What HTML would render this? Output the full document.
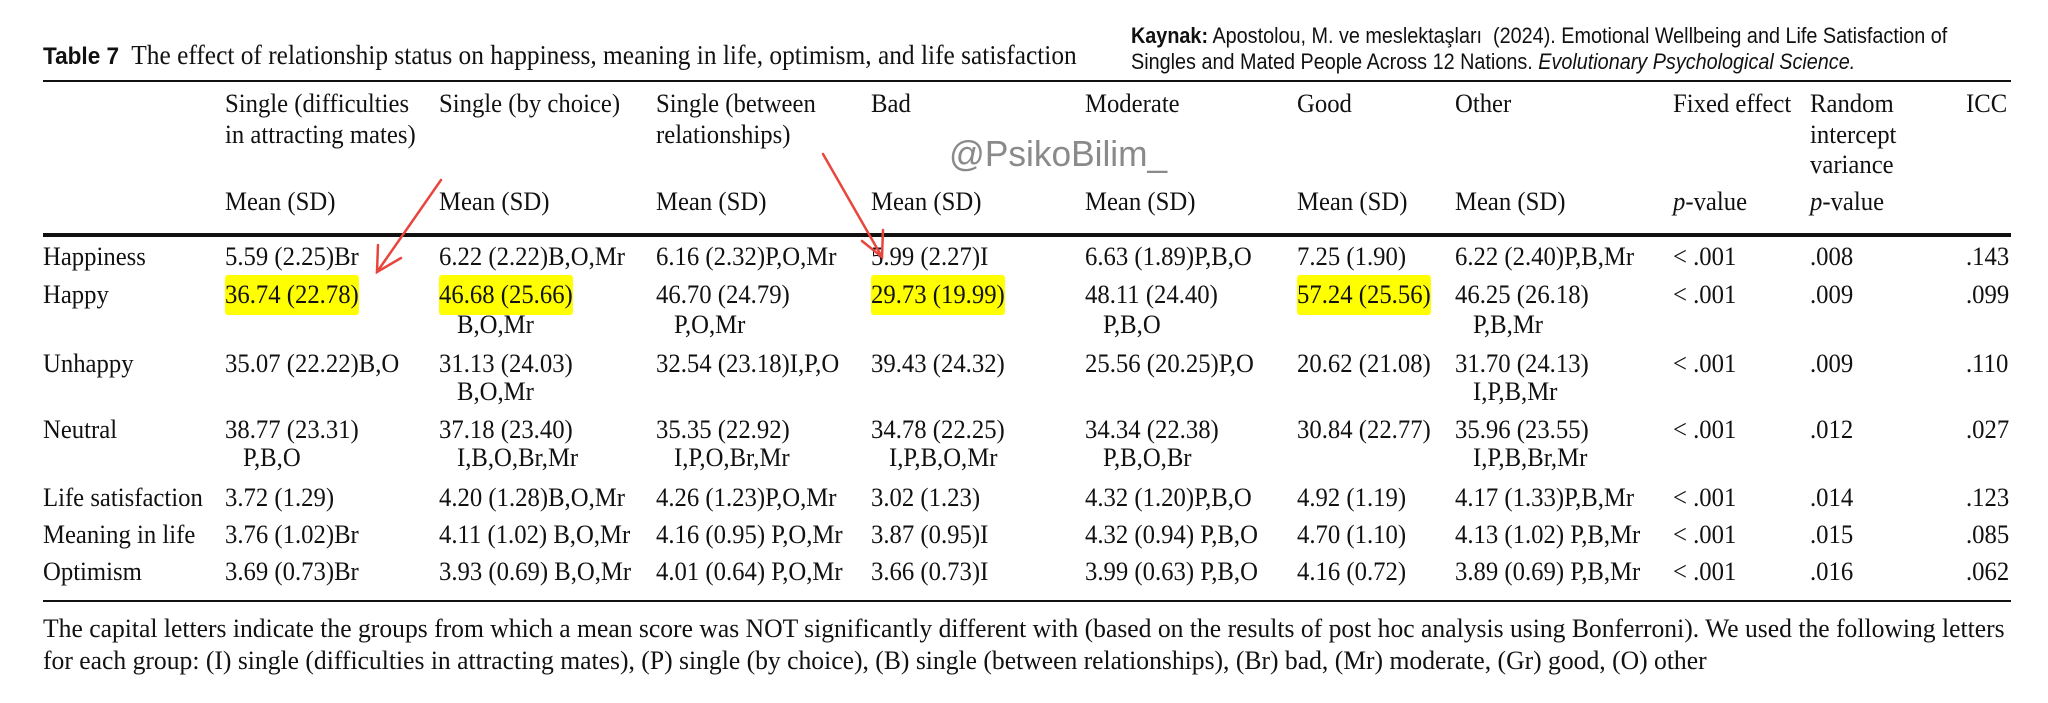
<!DOCTYPE html>
<html><head><meta charset="utf-8">
<style>
body{margin:0;background:#fff;}
#c{position:relative;width:2048px;height:703px;overflow:hidden;background:#fff;font-family:"Liberation Serif",serif;color:#111;}
.t{position:absolute;white-space:nowrap;font-size:26px;line-height:30px;transform:scaleX(0.95);transform-origin:left center;}
.hl{background:#ffff00;border-radius:3px;padding:5px 0 6px;}
.rule{position:absolute;left:43px;width:1968px;background:#111;}
</style></head><body><div id="c">
<div class="t" style="left:43px;top:40px;font-size:27px;transform:scaleX(0.94)"><b style="font-family:'Liberation Sans',sans-serif;font-size:24px">Table 7</b>&nbsp; The effect of relationship status on happiness, meaning in life, optimism, and life satisfaction</div>
<div class="t" style="left:1131px;top:21px;font-family:'Liberation Sans',sans-serif;font-size:22px;transform:scaleX(0.9)"><b>Kaynak:</b> Apostolou, M. ve meslektaşları&nbsp; (2024). Emotional Wellbeing and Life Satisfaction of</div>
<div class="t" style="left:1131px;top:47px;font-family:'Liberation Sans',sans-serif;font-size:22px;transform:scaleX(0.9)">Singles and Mated People Across 12 Nations. <i>Evolutionary Psychological Science.</i></div>
<div class="t" style="left:949px;top:135px;font-family:'Liberation Sans',sans-serif;font-size:36px;line-height:38px;color:#8a8a8a;transform:scaleX(0.98)">@PsikoBilim_</div>
<div class="rule" style="top:80px;height:2px"></div>
<div class="rule" style="top:233px;height:4px"></div>
<div class="rule" style="top:600px;height:2px"></div>

<div class="t" style="left:225px;top:89px">Single (difficulties</div>
<div class="t" style="left:225px;top:120px">in attracting mates)</div>
<div class="t" style="left:439px;top:89px">Single (by choice)</div>
<div class="t" style="left:656px;top:89px">Single (between</div>
<div class="t" style="left:656px;top:120px">relationships)</div>
<div class="t" style="left:871px;top:89px">Bad</div>
<div class="t" style="left:1085px;top:89px">Moderate</div>
<div class="t" style="left:1297px;top:89px">Good</div>
<div class="t" style="left:1455px;top:89px">Other</div>
<div class="t" style="left:1673px;top:89px">Fixed effect</div>
<div class="t" style="left:1810px;top:89px">Random</div>
<div class="t" style="left:1810px;top:120px">intercept</div>
<div class="t" style="left:1810px;top:150px">variance</div>
<div class="t" style="left:1966px;top:89px">ICC</div>
<div class="t" style="left:225px;top:187px">Mean (SD)</div>
<div class="t" style="left:439px;top:187px">Mean (SD)</div>
<div class="t" style="left:656px;top:187px">Mean (SD)</div>
<div class="t" style="left:871px;top:187px">Mean (SD)</div>
<div class="t" style="left:1085px;top:187px">Mean (SD)</div>
<div class="t" style="left:1297px;top:187px">Mean (SD)</div>
<div class="t" style="left:1455px;top:187px">Mean (SD)</div>
<div class="t" style="left:1673px;top:187px"><i>p</i>-value</div>
<div class="t" style="left:1810px;top:187px"><i>p</i>-value</div>

<div class="t" style="left:43px;top:242px">Happiness</div>
<div class="t" style="left:225px;top:242px">5.59 (2.25)Br</div>
<div class="t" style="left:439px;top:242px">6.22 (2.22)B,O,Mr</div>
<div class="t" style="left:656px;top:242px">6.16 (2.32)P,O,Mr</div>
<div class="t" style="left:871px;top:242px">5.99 (2.27)I</div>
<div class="t" style="left:1085px;top:242px">6.63 (1.89)P,B,O</div>
<div class="t" style="left:1297px;top:242px">7.25 (1.90)</div>
<div class="t" style="left:1455px;top:242px">6.22 (2.40)P,B,Mr</div>
<div class="t" style="left:1673px;top:242px">&lt; .001</div>
<div class="t" style="left:1810px;top:242px">.008</div>
<div class="t" style="left:1966px;top:242px">.143</div>

<div class="t" style="left:43px;top:280px">Happy</div>
<div class="t" style="left:225px;top:280px"><span class="hl">36.74 (22.78)</span></div>
<div class="t" style="left:439px;top:280px"><span class="hl">46.68 (25.66)</span></div>
<div class="t" style="left:457px;top:310px">B,O,Mr</div>
<div class="t" style="left:656px;top:280px">46.70 (24.79)</div>
<div class="t" style="left:674px;top:310px">P,O,Mr</div>
<div class="t" style="left:871px;top:280px"><span class="hl">29.73 (19.99)</span></div>
<div class="t" style="left:1085px;top:280px">48.11 (24.40)</div>
<div class="t" style="left:1103px;top:310px">P,B,O</div>
<div class="t" style="left:1297px;top:280px"><span class="hl">57.24 (25.56)</span></div>
<div class="t" style="left:1455px;top:280px">46.25 (26.18)</div>
<div class="t" style="left:1473px;top:310px">P,B,Mr</div>
<div class="t" style="left:1673px;top:280px">&lt; .001</div>
<div class="t" style="left:1810px;top:280px">.009</div>
<div class="t" style="left:1966px;top:280px">.099</div>

<div class="t" style="left:43px;top:349px">Unhappy</div>
<div class="t" style="left:225px;top:349px">35.07 (22.22)B,O</div>
<div class="t" style="left:439px;top:349px">31.13 (24.03)</div>
<div class="t" style="left:457px;top:377px">B,O,Mr</div>
<div class="t" style="left:656px;top:349px">32.54 (23.18)I,P,O</div>
<div class="t" style="left:871px;top:349px">39.43 (24.32)</div>
<div class="t" style="left:1085px;top:349px">25.56 (20.25)P,O</div>
<div class="t" style="left:1297px;top:349px">20.62 (21.08)</div>
<div class="t" style="left:1455px;top:349px">31.70 (24.13)</div>
<div class="t" style="left:1473px;top:377px">I,P,B,Mr</div>
<div class="t" style="left:1673px;top:349px">&lt; .001</div>
<div class="t" style="left:1810px;top:349px">.009</div>
<div class="t" style="left:1966px;top:349px">.110</div>

<div class="t" style="left:43px;top:415px">Neutral</div>
<div class="t" style="left:225px;top:415px">38.77 (23.31)</div>
<div class="t" style="left:243px;top:443px">P,B,O</div>
<div class="t" style="left:439px;top:415px">37.18 (23.40)</div>
<div class="t" style="left:457px;top:443px">I,B,O,Br,Mr</div>
<div class="t" style="left:656px;top:415px">35.35 (22.92)</div>
<div class="t" style="left:674px;top:443px">I,P,O,Br,Mr</div>
<div class="t" style="left:871px;top:415px">34.78 (22.25)</div>
<div class="t" style="left:889px;top:443px">I,P,B,O,Mr</div>
<div class="t" style="left:1085px;top:415px">34.34 (22.38)</div>
<div class="t" style="left:1103px;top:443px">P,B,O,Br</div>
<div class="t" style="left:1297px;top:415px">30.84 (22.77)</div>
<div class="t" style="left:1455px;top:415px">35.96 (23.55)</div>
<div class="t" style="left:1473px;top:443px">I,P,B,Br,Mr</div>
<div class="t" style="left:1673px;top:415px">&lt; .001</div>
<div class="t" style="left:1810px;top:415px">.012</div>
<div class="t" style="left:1966px;top:415px">.027</div>

<div class="t" style="left:43px;top:483px">Life satisfaction</div>
<div class="t" style="left:225px;top:483px">3.72 (1.29)</div>
<div class="t" style="left:439px;top:483px">4.20 (1.28)B,O,Mr</div>
<div class="t" style="left:656px;top:483px">4.26 (1.23)P,O,Mr</div>
<div class="t" style="left:871px;top:483px">3.02 (1.23)</div>
<div class="t" style="left:1085px;top:483px">4.32 (1.20)P,B,O</div>
<div class="t" style="left:1297px;top:483px">4.92 (1.19)</div>
<div class="t" style="left:1455px;top:483px">4.17 (1.33)P,B,Mr</div>
<div class="t" style="left:1673px;top:483px">&lt; .001</div>
<div class="t" style="left:1810px;top:483px">.014</div>
<div class="t" style="left:1966px;top:483px">.123</div>

<div class="t" style="left:43px;top:520px">Meaning in life</div>
<div class="t" style="left:225px;top:520px">3.76 (1.02)Br</div>
<div class="t" style="left:439px;top:520px">4.11 (1.02) B,O,Mr</div>
<div class="t" style="left:656px;top:520px">4.16 (0.95) P,O,Mr</div>
<div class="t" style="left:871px;top:520px">3.87 (0.95)I</div>
<div class="t" style="left:1085px;top:520px">4.32 (0.94) P,B,O</div>
<div class="t" style="left:1297px;top:520px">4.70 (1.10)</div>
<div class="t" style="left:1455px;top:520px">4.13 (1.02) P,B,Mr</div>
<div class="t" style="left:1673px;top:520px">&lt; .001</div>
<div class="t" style="left:1810px;top:520px">.015</div>
<div class="t" style="left:1966px;top:520px">.085</div>

<div class="t" style="left:43px;top:557px">Optimism</div>
<div class="t" style="left:225px;top:557px">3.69 (0.73)Br</div>
<div class="t" style="left:439px;top:557px">3.93 (0.69) B,O,Mr</div>
<div class="t" style="left:656px;top:557px">4.01 (0.64) P,O,Mr</div>
<div class="t" style="left:871px;top:557px">3.66 (0.73)I</div>
<div class="t" style="left:1085px;top:557px">3.99 (0.63) P,B,O</div>
<div class="t" style="left:1297px;top:557px">4.16 (0.72)</div>
<div class="t" style="left:1455px;top:557px">3.89 (0.69) P,B,Mr</div>
<div class="t" style="left:1673px;top:557px">&lt; .001</div>
<div class="t" style="left:1810px;top:557px">.016</div>
<div class="t" style="left:1966px;top:557px">.062</div>

<div class="t" style="left:43px;top:614px;transform:scaleX(0.985)">The capital letters indicate the groups from which a mean score was NOT significantly different with (based on the results of post hoc analysis using Bonferroni). We used the following letters</div>
<div class="t" style="left:43px;top:646px;transform:scaleX(0.985)">for each group: (I) single (difficulties in attracting mates), (P) single (by choice), (B) single (between relationships), (Br) bad, (Mr) moderate, (Gr) good, (O) other</div>

<svg style="position:absolute;left:0;top:0" width="2048" height="703">
<g stroke="#e8463c" stroke-width="2.5" fill="none" stroke-linecap="round">
<line x1="441" y1="180" x2="377" y2="272"/>
<polyline points="378,245 377,272 401,258"/>
<line x1="823" y1="154" x2="882" y2="257"/>
<polyline points="862,241 882,257 883,230"/>
</g></svg>
</div></body></html>
